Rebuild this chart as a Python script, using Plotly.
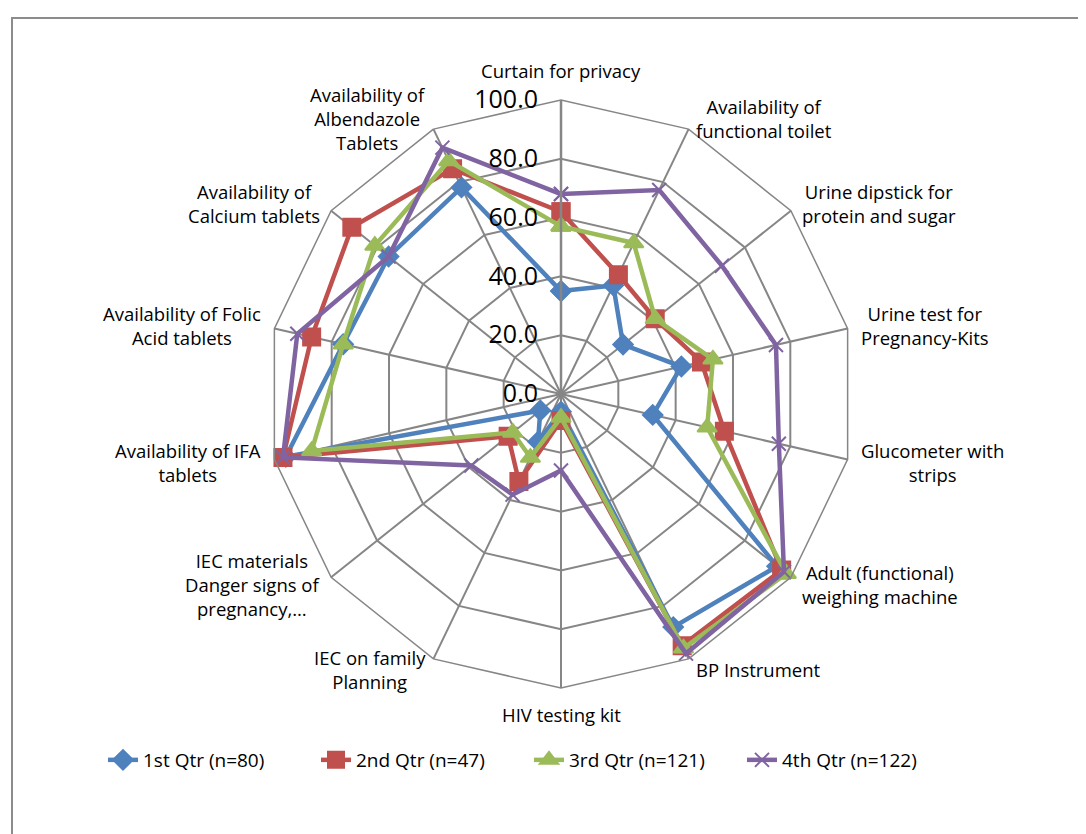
import math
import plotly.graph_objects as go

# categories, clockwise from the top
categories = [
    "Curtain for privacy",
    "Availability of<br>functional toilet",
    "Urine dipstick for<br>protein and sugar",
    "Urine test for<br>Pregnancy-Kits",
    "Glucometer with<br>strips",
    "Adult (functional)<br>weighing machine",
    "BP Instrument",
    "HIV testing kit",
    "IEC on family<br>Planning",
    "IEC materials<br>Danger signs of<br>pregnancy,…",
    "Availability of IFA<br>tablets",
    "Availability of Folic<br>Acid tablets",
    "Availability of<br>Calcium tablets",
    "Availability of<br>Albendazole<br>Tablets",
]

q1 = [35, 41, 27, 42, 32, 94, 88, 6, 18, 9, 96, 76, 75, 78]
q2 = [62, 45, 41, 49, 57, 96, 95, 9, 33, 23, 97, 87, 91, 85]
q3 = [57, 57, 41, 53, 51, 98, 96, 8, 24, 21, 87, 76, 81, 88]
q4 = [68, 77, 70, 75, 76, 97, 98, 26, 38, 39, 97, 92, 75, 93]

series_names = ["1st Qtr (n=80)", "2nd Qtr (n=47)", "3rd Qtr (n=121)", "4th Qtr (n=122)"]
colors = ["#4F81BD", "#C0504D", "#9BBB59", "#8064A2"]
symbols = ["diamond", "square", "triangle-up", "x-thin-open"]
sizes = [15, 17, 17, 14]

fig = go.Figure()
for name, vals, c, s, sz in zip(series_names, [q1, q2, q3, q4], colors, symbols, sizes):
    fig.add_trace(go.Scatterpolar(
        r=vals + vals[:1],
        theta=categories + categories[:1],
        mode="lines+markers",
        name=name,
        line=dict(color=c, width=4.5),
        marker=dict(symbol=s, size=sz, color=c,
                    line=dict(color=c, width=2)),
    ))

# page has an 8px body margin, so figure coords = screen coords - 8
W, H = 1086, 834
cx, cy, rad = 553, 386, 294

# category labels placed like Excel does (block centred, just outside each vertex)
annots = []
n = len(categories)
for i, lab in enumerate(categories):
    a = math.radians(i * 360 / n)
    s, c = math.sin(a), math.cos(a)
    gap = 15 if i == 0 else 12
    px = cx + (rad + gap) * s
    py = cy - (rad + gap) * c
    if abs(s) < 0.1:
        xa, ya = "center", ("bottom" if c > 0 else "top")
    else:
        xa, ya = ("left" if s > 0 else "right"), "middle"
    annots.append(dict(x=px / W, y=1 - py / H, xref="paper", yref="paper",
                       text=lab, showarrow=False, xanchor=xa, yanchor=ya,
                       align="center", font=dict(size=18.5)))

fig.update_layout(
    width=W, height=H,
    margin=dict(l=0, r=0, t=0, b=0),
    paper_bgcolor="white",
    font=dict(family="Open Sans, DejaVu Sans, sans-serif", size=18, color="black"),
    polar=dict(
        domain=dict(x=[(cx - rad) / W, (cx + rad) / W],
                    y=[(H - cy - rad) / H, (H - cy + rad) / H]),
        bgcolor="white",
        gridshape="linear",
        angularaxis=dict(rotation=90, direction="clockwise",
                         showline=True, linecolor="#868686", linewidth=1.5,
                         gridcolor="#868686", gridwidth=1.5,
                         ticks="", showticklabels=False),
        radialaxis=dict(range=[0, 100], dtick=20, tickformat=".1f",
                        ticksuffix="\u00a0\u00a0",
                        angle=90, tickangle=90, side="counterclockwise",
                        showline=True, linecolor="#868686", linewidth=2.5,
                        gridcolor="#868686", gridwidth=1.5,
                        ticks="", tickfont=dict(size=25)),
    ),
    annotations=annots,
    legend=dict(orientation="h", x=95 / W, xanchor="left", y=(H - 752) / H,
                yanchor="middle", font=dict(size=19),
                entrywidth=168, entrywidthmode="pixels",
                traceorder="normal"),
    shapes=[dict(type="rect", xref="paper", yref="paper",
                 x0=4 / W, x1=1.02, y0=-0.02, y1=1 - 10 / H,
                 line=dict(color="#8C8C8C", width=2))],
)

fig.write_html("out.html")
